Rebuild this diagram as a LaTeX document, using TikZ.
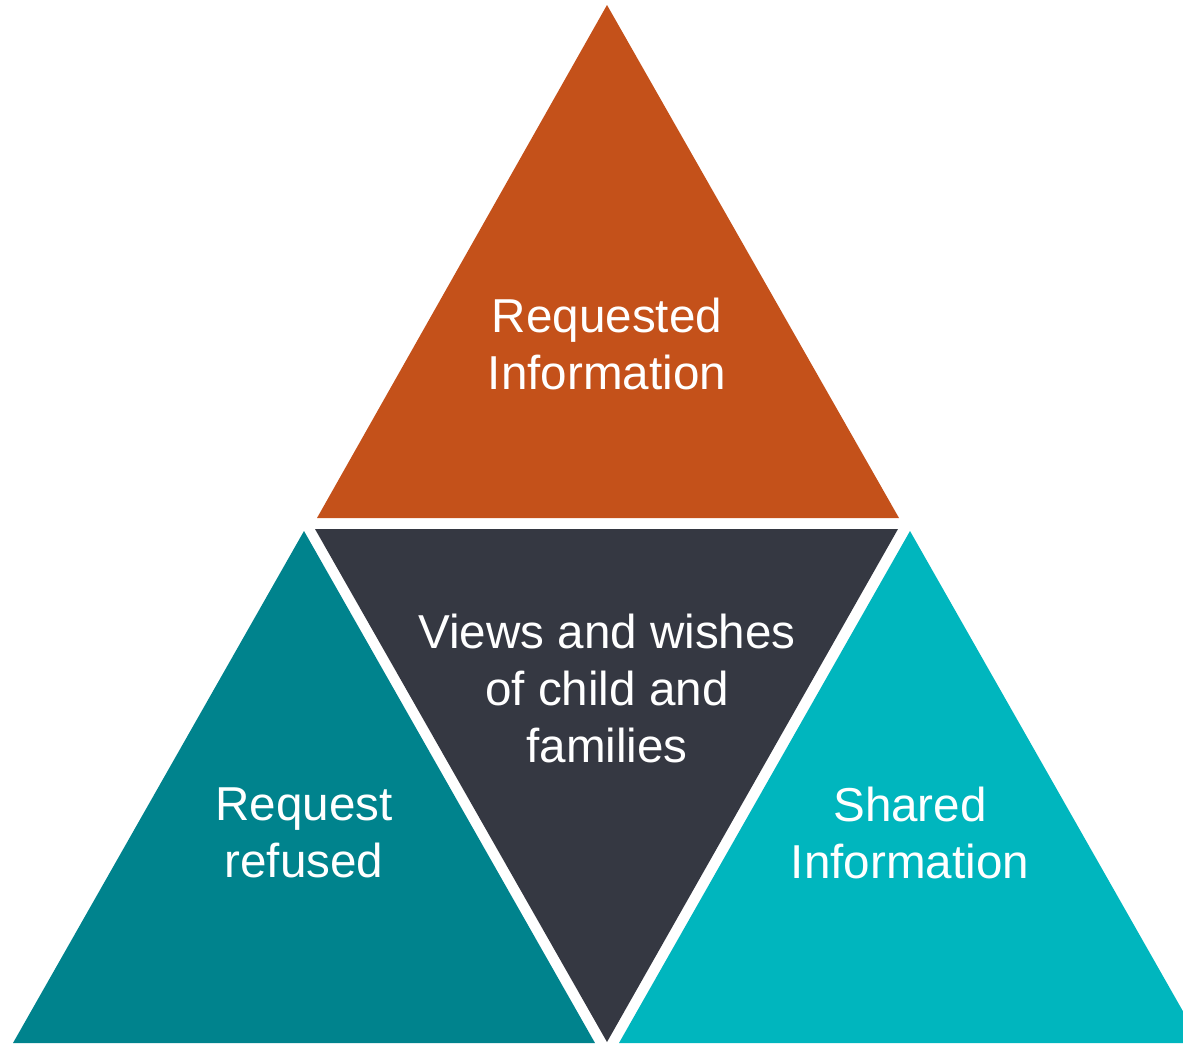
\documentclass[tikz,border=0pt]{standalone}
\usepackage{fontspec}
\setmainfont{Liberation Sans}
\definecolor{rust}{HTML}{C4511A}
\definecolor{slate}{HTML}{353842}
\definecolor{tealdark}{HTML}{00838D}
\definecolor{teallight}{HTML}{00B6BE}
\begin{document}
\begin{tikzpicture}[x=0.5pt, y=-0.5pt,
    tritext/.style={text=white, align=center, font=\fontsize{23.8}{28.5}\selectfont}]
    \useasboundingbox (0,0) rectangle (1183,1045);
    \clip (0,0) rectangle (1183,1045);
    % triangles
    \fill[rust] (607,5) -- (899,518) -- (317,518) -- cycle;
    \fill[slate] (315,529) -- (898,529) -- (607,1042) -- cycle;
    \fill[tealdark] (304,531) -- (595,1043) -- (13,1043) -- cycle;
    \fill[teallight] (910,531) -- (1201,1043) -- (619,1043) -- cycle;
    % texts
    \node[tritext] (requested) at (607,344) {Requested\\Information};
    \node[tritext] (views) at (607,688) {Views and wishes\\of child and\\families};
    \node[tritext] (refused) at (304,833) {Request\\refused};
    \node[tritext] (shared) at (910,833) {Shared\\Information};
\end{tikzpicture}
\end{document}
